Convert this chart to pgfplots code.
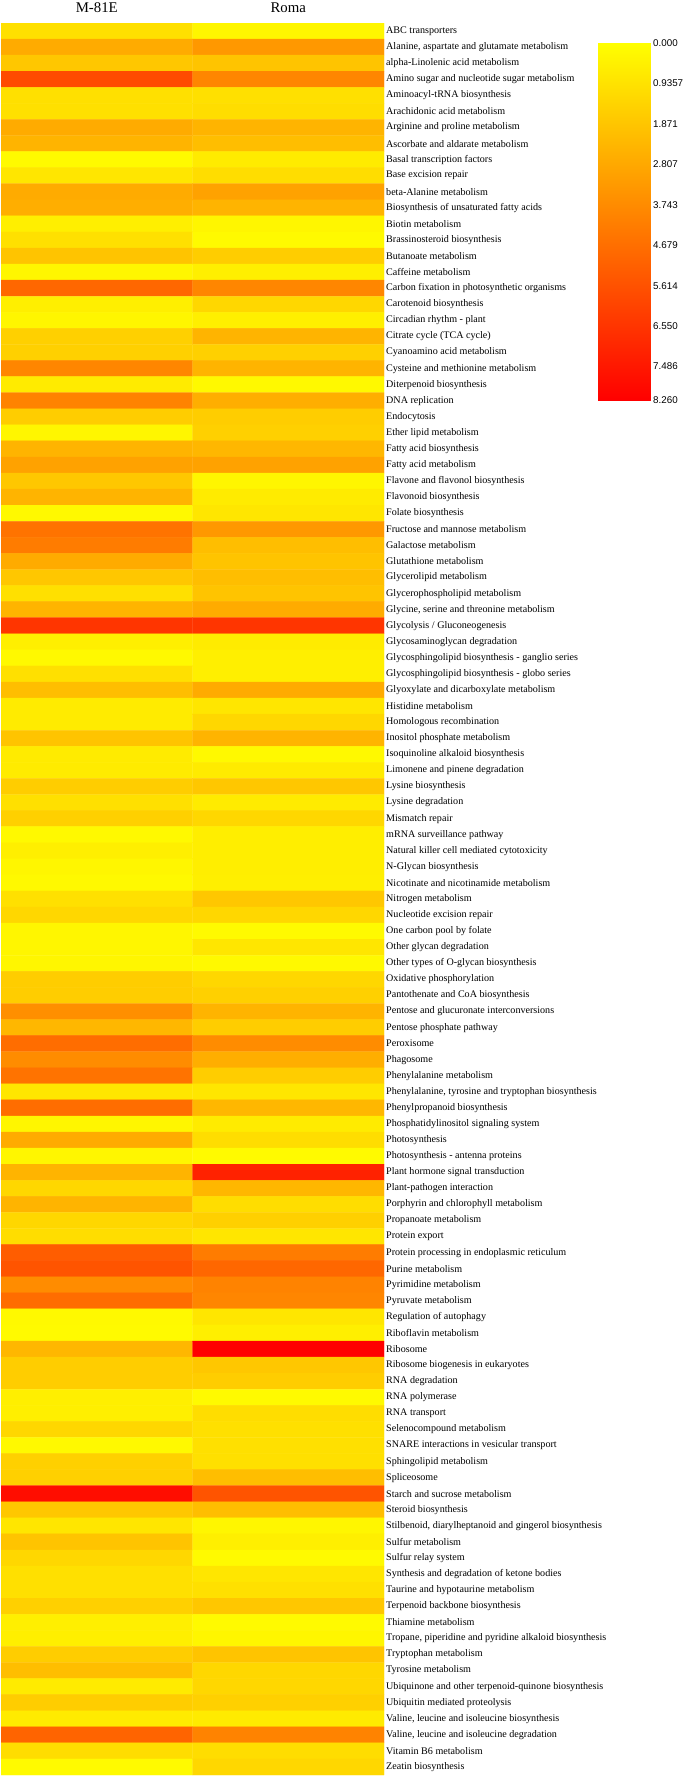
\documentclass[border=0pt]{standalone}
\usepackage{pgfplots}
\pgfplotsset{compat=1.18}
\usepackage{fontspec}
\setmainfont{Liberation Serif}
\setsansfont{Liberation Sans}
\pgfplotstableread{
x y c
0 1 1.0
1 1 0.3
0 2 2.7
1 2 3.3
0 3 1.8
1 3 1.9
0 4 5.8
1 4 3.9
0 5 1.0
1 5 1.0
0 6 1.0
1 6 1.1
0 7 2.7
1 7 2.4
0 8 2.4
1 8 2.1
0 9 0.15
1 9 0.65
0 10 0.8
1 10 1.1
0 11 2.7
1 11 3.0
0 12 2.6
1 12 2.4
0 13 0.5
1 13 0.3
0 14 1.0
1 14 0.15
0 15 1.9
1 15 1.6
0 16 0.3
1 16 0.5
0 17 4.9
1 17 3.9
0 18 0.5
1 18 1.3
0 19 0.3
1 19 0.5
0 20 1.5
1 20 2.4
0 21 1.5
1 21 1.5
0 22 3.9
1 22 2.4
0 23 0.65
1 23 0.2
0 24 4.0
1 24 2.6
0 25 1.6
1 25 1.6
0 26 0.3
1 26 1.5
0 27 2.4
1 27 2.3
0 28 3.0
1 28 3.0
0 29 1.8
1 29 0.3
0 30 2.4
1 30 0.65
0 31 0.2
1 31 0.8
0 32 4.5
1 32 3.3
0 33 4.2
1 33 2.1
0 34 2.7
1 34 1.9
0 35 1.8
1 35 2.1
0 36 1.0
1 36 1.9
0 37 2.4
1 37 2.7
0 38 6.5
1 38 6.5
0 39 0.5
1 39 0.65
0 40 0.2
1 40 0.5
0 41 1.0
1 41 0.5
0 42 2.1
1 42 2.7
0 43 0.65
1 43 0.8
0 44 0.65
1 44 1.3
0 45 1.9
1 45 2.4
0 46 0.65
1 46 0.2
0 47 0.65
1 47 0.65
0 48 1.6
1 48 1.8
0 49 1.0
1 49 0.65
0 50 1.5
1 50 1.3
0 51 0.2
1 51 0.55
0 52 0.5
1 52 0.55
0 53 0.3
1 53 0.55
0 54 0.2
1 54 0.5
0 55 1.0
1 55 1.8
0 56 1.3
1 56 1.3
0 57 0.3
1 57 0.15
0 58 0.3
1 58 0.8
0 59 0.3
1 59 0.2
0 60 1.6
1 60 1.3
0 61 1.6
1 61 1.5
0 62 3.6
1 62 2.4
0 63 2.3
1 63 1.6
0 64 4.7
1 64 3.7
0 65 3.7
1 65 2.6
0 66 4.5
1 66 1.6
0 67 0.8
1 67 0.8
0 68 4.7
1 68 2.3
0 69 0.3
1 69 0.65
0 70 2.7
1 70 1.1
0 71 0.3
1 71 0.15
0 72 2.4
1 72 7.1
0 73 1.3
1 73 2.3
0 74 2.4
1 74 1.1
0 75 1.3
1 75 1.5
0 76 1.1
1 76 0.8
0 77 5.2
1 77 4.2
0 78 5.5
1 78 4.9
0 79 3.7
1 79 4.0
0 80 4.7
1 80 3.9
0 81 0.2
1 81 0.8
0 82 0.15
1 82 0.5
0 83 2.3
1 83 8.26
0 84 1.6
1 84 1.8
0 85 1.6
1 85 1.6
0 86 0.5
1 86 0.15
0 87 0.5
1 87 1.1
0 88 1.3
1 88 1.0
0 89 0.2
1 89 1.0
0 90 1.5
1 90 1.0
0 91 1.5
1 91 2.1
0 92 7.8
1 92 5.5
0 93 1.8
1 93 2.1
0 94 0.8
1 94 0.3
0 95 1.9
1 95 0.5
0 96 1.3
1 96 0.15
0 97 1.0
1 97 0.8
0 98 1.0
1 98 1.0
0 99 1.5
1 99 1.8
0 100 0.5
1 100 0.15
0 101 0.5
1 101 0.3
0 102 1.6
1 102 1.9
0 103 2.1
1 103 1.3
0 104 0.65
1 104 1.3
0 105 1.6
1 105 1.5
0 106 0.65
1 106 0.65
0 107 5.0
1 107 4.0
0 108 1.1
1 108 1.1
0 109 0.15
1 109 1.3
}\heat
\pgfplotstableread{
x y
0 0
1 0
0 8.26
1 8.26
}\scale
\begin{document}
\begin{tikzpicture}
\useasboundingbox (0,0) rectangle (685pt,-1776pt);
\begin{axis}[
  at={(1pt,-1775pt)}, anchor=south west,
  scale only axis, width=383pt, height=1752pt,
  xmin=-0.5, xmax=1.5, ymin=0.5, ymax=109.5,
  y dir=reverse,
  axis line style={draw=none},
  major tick length=0pt,
  xtick={0,1}, xticklabels={M-81E,Roma},
  xticklabel pos=top,
  xticklabel style={font=\fontsize{14.8}{16}\selectfont, inner sep=0pt, anchor=south, yshift=10pt},
  ytick={1,...,109},
  yticklabel pos=right,
  yticklabel style={font=\fontsize{10.1}{12}\selectfont, inner sep=0pt, anchor=west, xshift=2pt},
  yticklabels={{ABC transporters},{Alanine, aspartate and glutamate metabolism},{alpha-Linolenic acid metabolism},{Amino sugar and nucleotide sugar metabolism},{Aminoacyl-tRNA biosynthesis},{Arachidonic acid metabolism},{Arginine and proline metabolism},{Ascorbate and aldarate metabolism},{Basal transcription factors},{Base excision repair},{beta-Alanine metabolism},{Biosynthesis of unsaturated fatty acids},{Biotin metabolism},{Brassinosteroid biosynthesis},{Butanoate metabolism},{Caffeine metabolism},{Carbon fixation in photosynthetic organisms},{Carotenoid biosynthesis},{Circadian rhythm - plant},{Citrate cycle (TCA cycle)},{Cyanoamino acid metabolism},{Cysteine and methionine metabolism},{Diterpenoid biosynthesis},{DNA replication},{Endocytosis},{Ether lipid metabolism},{Fatty acid biosynthesis},{Fatty acid metabolism},{Flavone and flavonol biosynthesis},{Flavonoid biosynthesis},{Folate biosynthesis},{Fructose and mannose metabolism},{Galactose metabolism},{Glutathione metabolism},{Glycerolipid metabolism},{Glycerophospholipid metabolism},{Glycine, serine and threonine metabolism},{Glycolysis / Gluconeogenesis},{Glycosaminoglycan degradation},{Glycosphingolipid biosynthesis - ganglio series},{Glycosphingolipid biosynthesis - globo series},{Glyoxylate and dicarboxylate metabolism},{Histidine metabolism},{Homologous recombination},{Inositol phosphate metabolism},{Isoquinoline alkaloid biosynthesis},{Limonene and pinene degradation},{Lysine biosynthesis},{Lysine degradation},{Mismatch repair},{mRNA surveillance pathway},{Natural killer cell mediated cytotoxicity},{N-Glycan biosynthesis},{Nicotinate and nicotinamide metabolism},{Nitrogen metabolism},{Nucleotide excision repair},{One carbon pool by folate},{Other glycan degradation},{Other types of O-glycan biosynthesis},{Oxidative phosphorylation},{Pantothenate and CoA biosynthesis},{Pentose and glucuronate interconversions},{Pentose phosphate pathway},{Peroxisome},{Phagosome},{Phenylalanine metabolism},{Phenylalanine, tyrosine and tryptophan biosynthesis},{Phenylpropanoid biosynthesis},{Phosphatidylinositol signaling system},{Photosynthesis},{Photosynthesis - antenna proteins},{Plant hormone signal transduction},{Plant-pathogen interaction},{Porphyrin and chlorophyll metabolism},{Propanoate metabolism},{Protein export},{Protein processing in endoplasmic reticulum},{Purine metabolism},{Pyrimidine metabolism},{Pyruvate metabolism},{Regulation of autophagy},{Riboflavin metabolism},{Ribosome},{Ribosome biogenesis in eukaryotes},{RNA degradation},{RNA polymerase},{RNA transport},{Selenocompound metabolism},{SNARE interactions in vesicular transport},{Sphingolipid metabolism},{Spliceosome},{Starch and sucrose metabolism},{Steroid biosynthesis},{Stilbenoid, diarylheptanoid and gingerol biosynthesis},{Sulfur metabolism},{Sulfur relay system},{Synthesis and degradation of ketone bodies},{Taurine and hypotaurine metabolism},{Terpenoid backbone biosynthesis},{Thiamine metabolism},{Tropane, piperidine and pyridine alkaloid biosynthesis},{Tryptophan metabolism},{Tyrosine metabolism},{Ubiquinone and other terpenoid-quinone biosynthesis},{Ubiquitin mediated proteolysis},{Valine, leucine and isoleucine biosynthesis},{Valine, leucine and isoleucine degradation},{Vitamin B6 metabolism},{Zeatin biosynthesis}},
  colormap={yr}{rgb255=(255,255,0) rgb255=(255,0,0)},
  point meta min=0, point meta max=8.26,
]
\addplot[matrix plot, mesh/cols=2, point meta=explicit, draw=none] table[x=x, y=y, meta=c] {\heat};
\end{axis}
\begin{axis}[
  at={(598pt,-43pt)}, anchor=north west,
  scale only axis, width=52pt, height=357pt,
  xmin=0, xmax=1, ymin=0, ymax=8.26,
  y dir=reverse,
  axis line style={draw=none},
  major tick length=0pt,
  xtick=\empty,
  ytick={0,0.9357,1.871,2.807,3.743,4.679,5.614,6.550,7.486,8.260},
  yticklabels={0.000,0.9357,1.871,2.807,3.743,4.679,5.614,6.550,7.486,8.260},
  yticklabel pos=right,
  yticklabel style={font=\sffamily\fontsize{9.8}{11}\selectfont, inner sep=0pt, anchor=west, xshift=3pt},
  colormap={yr}{rgb255=(255,255,0) rgb255=(255,0,0)},
  point meta min=0, point meta max=8.26,
]
\addplot[surf, shader=interp, mesh/cols=2, point meta=y] table[x=x, y=y] {\scale};
\end{axis}
\end{tikzpicture}
\end{document}
